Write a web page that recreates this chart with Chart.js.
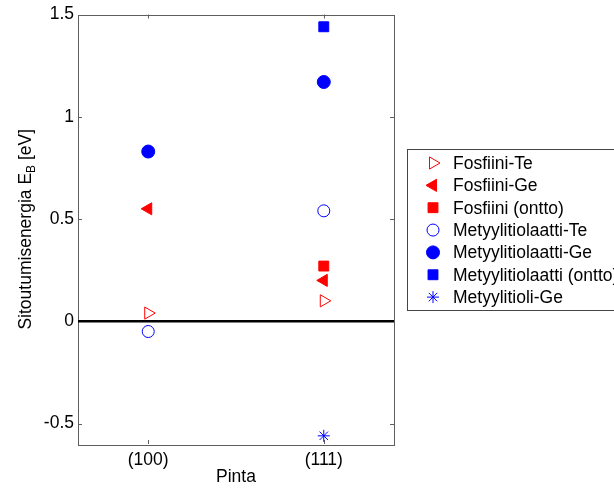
<!DOCTYPE html>
<html>
<head>
<meta charset="utf-8">
<title>Sitoutumisenergia</title>
<script src="https://cdn.jsdelivr.net/npm/chart.js@4/dist/chart.umd.min.js"></script>
<style>
  html, body { margin: 0; padding: 0; background: #fff; overflow: hidden; }
  #wrap { width: 614px; height: 488px; }
</style>
</head>
<body>
<div id="wrap"><canvas id="chart" width="614" height="488"></canvas></div>
<script>
// surfaces on the x axis
const categories = ['(100)', '(111)'];
const yTicks = [-0.5, 0, 0.5, 1, 1.5];

// binding energies [eV], one value per surface (null = not computed)
const fosfiiniTe = [0.04, 0.10];
const fosfiiniGe = [0.55, 0.20];
const fosfiiniOntto = [null, 0.27];
const metyylitiolaattiTe = [-0.05, 0.54];
const metyylitiolaattiGe = [0.83, 1.17];
const metyylitiolaattiOntto = [null, 1.44];
const metyylitioliGe = [null, -0.56];

const RED = '#ff0000';
const BLUE = '#0000ff';
const FONT = 'Liberation Sans, Arial, Helvetica, sans-serif';
const FSIZE = 17.5;
const AXIS = '#5e5e5e';

function toPoints(values) {
    return values
        .map((v, i) => ({ x: i + 1, y: v }))
        .filter(p => p.y !== null);
}

function series(label, values, style) {
    return Object.assign({
        label: label,
        data: toPoints(values),
        showLine: false,
        borderWidth: 1
    }, style);
}

const datasets = [
    series('Fosfiini-Te', fosfiiniTe, { pointStyle: 'triangle', rotation: 90, pointRadius: 7, backgroundColor: 'rgba(0,0,0,0)', borderColor: RED }),
    series('Fosfiini-Ge', fosfiiniGe, { pointStyle: 'triangle', rotation: -90, pointRadius: 7, backgroundColor: RED, borderColor: RED }),
    series('Fosfiini (ontto)', fosfiiniOntto, { pointStyle: 'rect', pointRadius: 7, backgroundColor: RED, borderColor: RED }),
    series('Metyylitiolaatti-Te', metyylitiolaattiTe, { pointStyle: 'circle', pointRadius: 6, backgroundColor: 'rgba(0,0,0,0)', borderColor: BLUE }),
    series('Metyylitiolaatti-Ge', metyylitiolaattiGe, { pointStyle: 'circle', pointRadius: 6.5, backgroundColor: BLUE, borderColor: BLUE }),
    series('Metyylitiolaatti (ontto)', metyylitiolaattiOntto, { pointStyle: 'rect', pointRadius: 7, backgroundColor: BLUE, borderColor: BLUE }),
    series('Metyylitioli-Ge', metyylitioliGe, { pointStyle: 'star', pointRadius: 6, backgroundColor: BLUE, borderColor: BLUE })
];

// zero line, axes box with inward ticks, axis titles and the boxed legend
const decorations = {
    id: 'decorations',
    beforeDatasetsDraw(chart) {
        const ctx = chart.ctx;
        const a = chart.chartArea;
        const xs = chart.scales.x;
        const ys = chart.scales.y;
        ctx.save();

        // box
        ctx.strokeStyle = AXIS;
        ctx.lineWidth = 1;
        ctx.strokeRect(Math.round(a.left) + 0.5, Math.round(a.top) + 0.5,
            Math.round(a.right - a.left), Math.round(a.bottom - a.top));

        // inward ticks
        const tl = 4;
        ctx.beginPath();
        yTicks.forEach(v => {
            const y = Math.round(ys.getPixelForValue(v)) + 0.5;
            ctx.moveTo(a.left, y); ctx.lineTo(a.left + tl, y);
            ctx.moveTo(a.right, y); ctx.lineTo(a.right - tl, y);
        });
        categories.forEach((c, i) => {
            const x = Math.round(xs.getPixelForValue(i + 1)) + 0.5;
            ctx.moveTo(x, a.top); ctx.lineTo(x, a.top + tl);
            ctx.moveTo(x, a.bottom); ctx.lineTo(x, a.bottom - tl);
        });
        ctx.stroke();

        // zero line
        const y0 = ys.getPixelForValue(0);
        ctx.strokeStyle = '#000';
        ctx.lineWidth = 2.5;
        ctx.beginPath();
        ctx.moveTo(a.left, y0);
        ctx.lineTo(a.right, y0);
        ctx.stroke();

        // x axis title
        ctx.fillStyle = '#000';
        ctx.font = FSIZE + 'px ' + FONT;
        ctx.textAlign = 'center';
        ctx.textBaseline = 'middle';
        ctx.fillText('Pinta', (a.left + a.right) / 2, 477);

        // y axis title with subscript B
        const main = 'Sitoutumisenergia E';
        const tail = ' [eV]';
        ctx.font = FSIZE + 'px ' + FONT;
        const w1 = ctx.measureText(main).width;
        const w3 = ctx.measureText(tail).width;
        ctx.font = '12px ' + FONT;
        const w2 = ctx.measureText('B').width;
        const total = w1 + w2 + w3;
        ctx.translate(31, (a.top + a.bottom) / 2);
        ctx.rotate(-Math.PI / 2);
        ctx.textAlign = 'left';
        ctx.textBaseline = 'alphabetic';
        ctx.font = FSIZE + 'px ' + FONT;
        ctx.fillText(main, -total / 2, 0);
        ctx.font = '12px ' + FONT;
        ctx.fillText('B', -total / 2 + w1, 4);
        ctx.font = FSIZE + 'px ' + FONT;
        ctx.fillText(tail, -total / 2 + w1 + w2, 0);
        ctx.restore();
    },
    afterDraw(chart) {
        const ctx = chart.ctx;
        const boxLeft = 407, boxTop = 149, boxBottom = 310;
        const rowTop = 163, rowStep = 22.35;
        ctx.save();
        ctx.fillStyle = '#fff';
        ctx.fillRect(boxLeft, boxTop, 260, boxBottom - boxTop);
        ctx.strokeStyle = '#444';
        ctx.lineWidth = 1;
        ctx.strokeRect(boxLeft + 0.5, boxTop + 0.5, 260, boxBottom - boxTop);

        ctx.font = FSIZE + 'px ' + FONT;
        ctx.textAlign = 'left';
        ctx.textBaseline = 'middle';
        chart.data.datasets.forEach((ds, i) => {
            const y = rowTop + i * rowStep;
            ctx.fillStyle = ds.backgroundColor;
            ctx.strokeStyle = ds.borderColor;
            ctx.lineWidth = ds.borderWidth;
            Chart.helpers.drawPoint(ctx, {
                pointStyle: ds.pointStyle,
                rotation: ds.rotation || 0,
                radius: ds.pointRadius,
                borderWidth: ds.borderWidth
            }, 433, y);
            ctx.fillStyle = '#000';
            ctx.fillText(ds.label, 453, y + 1);
        });
        ctx.restore();
    }
};

const ctx = document.getElementById('chart').getContext('2d');
const chart = new Chart(ctx, {
    type: 'scatter',
    data: { datasets: datasets },
    plugins: [decorations],
    options: {
        responsive: false,
        animation: false,
        events: [],
        layout: { padding: { left: 0, top: 13, right: 220, bottom: 0 } },
        plugins: {
            legend: { display: false },
            tooltip: { enabled: false }
        },
        scales: {
            x: {
                type: 'linear',
                min: 0.6,
                max: 2.4,
                border: { display: false },
                grid: { display: false, drawTicks: false },
                afterBuildTicks: scale => {
                    scale.ticks = categories.map((c, i) => ({ value: i + 1 }));
                },
                afterFit: scale => { scale.height = 44; },
                ticks: {
                    padding: 6,
                    color: '#000',
                    font: { family: FONT, size: FSIZE },
                    maxRotation: 0,
                    callback: v => categories[v - 1] || ''
                }
            },
            y: {
                min: -0.6,
                max: 1.5,
                border: { display: false },
                grid: { display: false, drawTicks: false },
                afterBuildTicks: scale => {
                    scale.ticks = yTicks.map(v => ({ value: v }));
                },
                afterFit: scale => { scale.width = 78; },
                ticks: {
                    padding: 4,
                    color: '#000',
                    font: { family: FONT, size: FSIZE },
                    callback: v => String(v)
                }
            }
        }
    }
});
</script>
</body>
</html>
